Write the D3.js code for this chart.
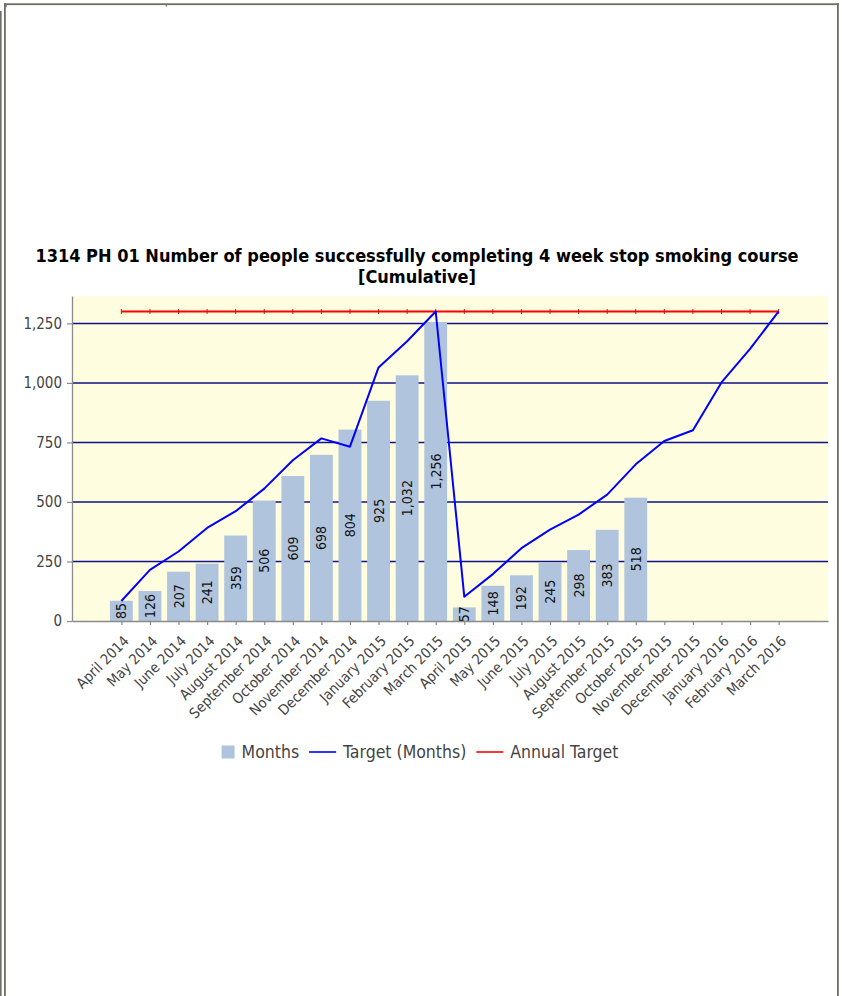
<!DOCTYPE html>
<html>
<head>
<meta charset="utf-8">
<script src="https://cdn.jsdelivr.net/npm/d3@7"></script>
<style>
  html, body { margin: 0; padding: 0; background: #fff; }
  svg { display: block; }
</style>
</head>
<body>
<svg id="chart" width="842" height="996"></svg>
<script>
// ---- data ----
const months = [
  "April 2014", "May 2014", "June 2014", "July 2014", "August 2014", "September 2014",
  "October 2014", "November 2014", "December 2014", "January 2015", "February 2015", "March 2015",
  "April 2015", "May 2015", "June 2015", "July 2015", "August 2015", "September 2015",
  "October 2015", "November 2015", "December 2015", "January 2016", "February 2016", "March 2016"
];
// cumulative completions recorded so far (April 2014 – October 2015)
const monthsActual = [85, 126, 207, 241, 359, 506, 609, 698, 804, 925, 1032, 1256,
                      57, 148, 192, 245, 298, 383, 518];
const targetMonths = [84, 215, 292, 391, 461, 556, 675, 767, 732, 1065, 1175, 1300,
                      102, 197, 306, 384, 447, 531, 658, 756, 801, 1002, 1143, 1300];
const annualTarget = [1300, 1300, 1300, 1300, 1300, 1300, 1300, 1300, 1300, 1300, 1300, 1300,
                      1300, 1300, 1300, 1300, 1300, 1300, 1300, 1300, 1300, 1300, 1300, 1300];
const yTicks = [0, 250, 500, 750, 1000, 1250];
const titleLines = [
  "1314 PH 01 Number of people successfully completing 4 week stop smoking course",
  "[Cumulative]"
];
const legendItems = [
  { label: "Months", kind: "box", color: "#b0c4de" },
  { label: "Target (Months)", kind: "line", color: "#0000ff" },
  { label: "Annual Target", kind: "line", color: "#ff0000" }
];

// ---- layout ----
const FONT = "'DejaVu Sans Condensed', 'DejaVu Sans', sans-serif";
const plot = { left: 72, right: 828, top: 296, bottom: 621 };
const svg = d3.select("#chart");

// page frame
const frameColor = "#6e6e66";
svg.append("rect").attr("x", 4).attr("y", 3.3).attr("width", 835).attr("height", 1.8).attr("fill", frameColor);
svg.append("rect").attr("x", 4).attr("y", 3.3).attr("width", 1.8).attr("height", 993).attr("fill", frameColor);
svg.append("rect").attr("x", 0).attr("y", 11).attr("width", 1.6).attr("height", 985).attr("fill", frameColor);
svg.append("rect").attr("x", 837).attr("y", 3.3).attr("width", 1.8).attr("height", 993).attr("fill", frameColor);
svg.append("rect").attr("x", 5.5).attr("y", 5).attr("width", 1.2).attr("height", 2.2).attr("fill", frameColor);
svg.append("rect").attr("x", 165.7).attr("y", 5).attr("width", 1.2).attr("height", 1.5).attr("fill", frameColor);

// scales
const x = d3.scalePoint().domain(months).range([plot.left, plot.right]).padding(1.727);
const y = d3.scaleLinear().domain([0, 1365]).range([plot.bottom, plot.top]);
const barW = x.step() * 0.8;

// title, sized to the chart width
const title = svg.append("g").attr("font-family", FONT).attr("font-weight", "bold").attr("fill", "#000");
const t1 = title.append("text").attr("x", 417).attr("y", 262).attr("text-anchor", "middle")
  .attr("font-size", 16).text(titleLines[0]);
const fitSize = 16 * 764 / t1.node().getComputedTextLength();
t1.attr("font-size", fitSize);
title.append("text").attr("x", 417).attr("y", 283).attr("text-anchor", "middle")
  .attr("font-size", fitSize).text(titleLines[1]);

// plot background
svg.append("rect").attr("x", plot.left).attr("y", plot.top)
  .attr("width", plot.right - plot.left).attr("height", plot.bottom - plot.top)
  .attr("fill", "#fffddf");

// horizontal gridlines
svg.append("g").selectAll("line").data(yTicks.filter(d => d > 0)).join("line")
  .attr("x1", plot.left).attr("x2", plot.right)
  .attr("y1", d => y(d)).attr("y2", d => y(d))
  .attr("stroke", "#10108a").attr("stroke-width", 1.5);

// bars
svg.append("g").selectAll("rect").data(monthsActual).join("rect")
  .attr("x", (d, i) => x(months[i]) - barW / 2)
  .attr("y", d => y(d))
  .attr("width", barW)
  .attr("height", d => plot.bottom - y(d))
  .attr("fill", "#b0c4de");

// bar value labels, clipped to the plot area
svg.append("clipPath").attr("id", "plotClip").append("rect")
  .attr("x", plot.left).attr("y", plot.top)
  .attr("width", plot.right - plot.left).attr("height", plot.bottom - plot.top);
svg.append("g").attr("clip-path", "url(#plotClip)")
  .attr("font-family", FONT).attr("font-size", 14).attr("fill", "#111")
  .selectAll("text").data(monthsActual).join("text")
  .attr("transform", (d, i) => `translate(${x(months[i])},${(y(d) + plot.bottom) / 2}) rotate(-90)`)
  .attr("text-anchor", "middle")
  .attr("dominant-baseline", "central")
  .text(d => d3.format(",")(d));

// axes
const axisColor = "#8a8a8a";
const yAxis = svg.append("g").attr("transform", `translate(${plot.left},0)`)
  .call(d3.axisLeft(y).tickValues(yTicks).tickFormat(d3.format(",")).tickSize(5).tickSizeOuter(0).tickPadding(5));
const xAxis = svg.append("g").attr("transform", `translate(0,${plot.bottom})`)
  .call(d3.axisBottom(x).tickSize(4).tickSizeOuter(0));
[yAxis, xAxis].forEach(g => {
  g.select(".domain").attr("stroke", axisColor).attr("stroke-width", 1.3);
  g.selectAll(".tick line").attr("stroke", axisColor).attr("stroke-width", 1.2);
  g.selectAll(".tick text").attr("fill", "#444").attr("font-family", FONT).attr("font-size", 15);
});
xAxis.selectAll(".tick text")
  .attr("font-size", 14.5)
  .attr("x", 0).attr("y", 0).attr("dy", 0)
  .attr("text-anchor", "end")
  .attr("transform", "translate(8,21) rotate(-45)");

// annual target line with point markers
const line = d3.line().x(d => x(d.m)).y(d => y(d.v));
const annualPts = annualTarget.map((v, i) => ({ m: months[i], v }));
svg.append("path").datum(annualPts).attr("d", line)
  .attr("fill", "none").attr("stroke", "#ff0000").attr("stroke-width", 2);
svg.append("g").selectAll("line").data(annualPts).join("line")
  .attr("x1", d => x(d.m)).attr("x2", d => x(d.m))
  .attr("y1", d => y(d.v) - 2.5).attr("y2", d => y(d.v) + 2.5)
  .attr("stroke", "#d01010").attr("stroke-width", 1);

// monthly target line
const targetPts = targetMonths.map((v, i) => ({ m: months[i], v }));
svg.append("path").datum(targetPts).attr("d", line)
  .attr("fill", "none").attr("stroke", "#0000ff").attr("stroke-width", 2)
  .attr("stroke-linejoin", "round");

// legend
const legend = svg.append("g").attr("font-family", FONT).attr("font-size", 17.5).attr("fill", "#444");
let cx = 0;
const legendParts = [];
legendItems.forEach(item => {
  const g = legend.append("g");
  const symW = item.kind === "box" ? 13 : 27;
  if (item.kind === "box") {
    g.append("rect").attr("x", 0).attr("y", -6.5).attr("width", 13).attr("height", 13).attr("fill", item.color);
  } else {
    g.append("line").attr("x1", 0).attr("x2", symW).attr("y1", 0).attr("y2", 0)
      .attr("stroke", item.color).attr("stroke-width", 1.6);
  }
  const tx = g.append("text").attr("x", symW + 7).attr("y", 6).text(item.label);
  const w = symW + 7 + tx.node().getComputedTextLength();
  legendParts.push({ g, offset: cx });
  cx += w + 10;
});
const legendWidth = cx - 10;
const legendLeft = 420 - legendWidth / 2;
legendParts.forEach(p => p.g.attr("transform", `translate(${legendLeft + p.offset},752)`));
</script>
</body>
</html>
